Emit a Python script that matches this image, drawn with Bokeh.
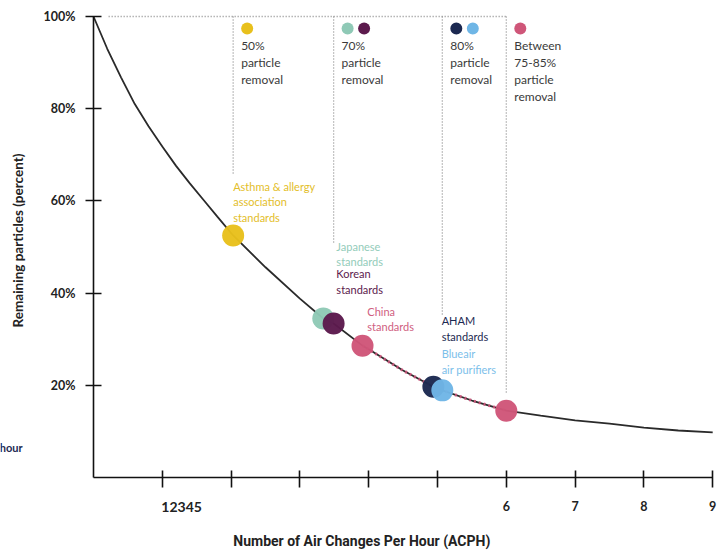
from bokeh.plotting import figure
from bokeh.models import Range1d, Label, FixedTicker, LinearAxis
from bokeh.embed import file_html
from bokeh.resources import INLINE

# Decay curve: remaining particles (%) against air changes per hour
curve_acph = [0, 0.2, 0.4, 0.6, 0.8, 1.0, 1.2, 1.4, 1.6, 1.8, 2.03, 2.5, 3.0,
              3.34, 3.49, 3.91, 4.0, 4.5, 4.94, 5.07, 5.5, 6.0, 6.5, 7.0,
              7.5, 8.0, 8.5, 9.0]
curve_remaining = [100, 93.0, 86.8, 81.0, 76.2, 71.8, 67.6, 63.8, 60.2, 56.6,
                   52.5, 45.6, 38.8, 34.5, 33.4, 28.6, 27.8, 23.2, 19.7, 18.9,
                   16.7, 14.5, 13.4, 12.4, 11.7, 10.8, 10.2, 9.8]

# Standards placed on the curve
std_names = ["Asthma & allergy\nassociation\nstandards", "Japanese\nstandards",
             "Korean\nstandards", "China\nstandards", "AHAM\nstandards",
             "Blueair\nair purifiers", "Between 75-85%"]
std_acph = [2.03, 3.34, 3.49, 3.91, 4.94, 5.07, 6.0]
std_remaining = [52.5, 34.5, 33.4, 28.6, 19.7, 18.9, 14.5]
std_colors = ["#E8C01C", "#8FC9B6", "#5C1A4D", "#CF5679", "#1C2951",
              "#6FB6E6", "#CF5679"]

# Removal groups shown along the top
group_text = ["50%\nparticle\nremoval", "70%\nparticle\nremoval",
              "80%\nparticle\nremoval", "Between\n75-85%\nparticle\nremoval"]
group_members = [[0], [1, 2], [4, 5], [6]]
group_anchor = [0, 2, 5, 6]          # standard whose ACPH sets the guide line
group_guide_bottom = [65.5, 51.0, 35.1, 18.2]

# Where each standard's caption sits (acph of left edge, top in %)
caption_x = [2.03, 3.53, 3.53, 3.98, 5.06, 5.06]
caption_top = [64.6, 51.6, 45.6, 37.5, 35.4, 28.2]
caption_colors = ["#E3BE2A", "#93CCBA", "#5C1A4D", "#D0607F", "#1C2951", "#7CC0EA"]

y_ticks = [20, 40, 60, 80, 100]
y_tick_labels = ["20%", "40%", "60%", "80%", "100%"]
x_ticks = [1, 2, 3, 4, 5, 6, 7, 8, 9]
x_tick_labels = ["12345", "", "", "", "", "6", "7", "8", "9"]

FONT = "Lato"
PX_PER_ACPH = 68.8
PX_PER_PCT = 4.61
W, H = 721, 551
ORIGIN_X, ORIGIN_Y = 93, 477     # pixel position of (0 ACPH, 0 %)

# The frame fills the page; both axes sit at the data origin
p = figure(width=W, height=H, output_backend="svg", toolbar_location=None,
           x_range=Range1d(-ORIGIN_X / PX_PER_ACPH, (W - ORIGIN_X) / PX_PER_ACPH),
           y_range=Range1d(-(H - ORIGIN_Y) / PX_PER_PCT, ORIGIN_Y / PX_PER_PCT),
           min_border=0, x_axis_location=None, y_axis_location=None)
p.outline_line_color = None
p.xgrid.visible = False
p.ygrid.visible = False
p.background_fill_color = "white"
p.border_fill_color = "white"

yaxis = LinearAxis(fixed_location=0, ticker=FixedTicker(ticks=y_ticks),
                   major_label_overrides=dict(zip(y_ticks, y_tick_labels)),
                   bounds=(0, 100))
xaxis = LinearAxis(fixed_location=0, ticker=FixedTicker(ticks=x_ticks),
                   major_label_overrides={t: ("" if i == 0 else lab) for i, (t, lab)
                                          in enumerate(zip(x_ticks, x_tick_labels))},
                   bounds=(0, 9))
for ax in (xaxis, yaxis):
    ax.axis_line_width = 1.6
    ax.axis_line_color = "#111111"
    ax.major_tick_line_width = 1.6
    ax.major_tick_line_color = "#111111"
    ax.minor_tick_line_color = None
    ax.major_label_text_font = FONT
    ax.major_label_text_font_style = "bold"
    ax.major_label_text_font_size = "12.5px"
    ax.major_label_text_color = "#222222"
yaxis.major_tick_in = 8
yaxis.major_tick_out = 8
yaxis.major_label_standoff = 10
xaxis.major_tick_in = 7
xaxis.major_tick_out = 10
xaxis.major_label_standoff = 13
p.add_layout(xaxis, "below")
p.add_layout(yaxis, "left")

# Y axis title
p.add_layout(Label(x=-ORIGIN_X / PX_PER_ACPH, y=(ORIGIN_Y - 240) / PX_PER_PCT,
                   x_offset=17, text="Remaining particles (percent)", angle=90,
                   angle_units="deg", text_align="center", text_baseline="middle",
                   text_font=FONT, text_font_style="bold", text_font_size="13.5px",
                   text_color="#222222"))

# First tick label runs to the right of its tick
p.add_layout(Label(x=x_ticks[0], y=-6.3, text=x_tick_labels[0], text_align="left",
                   text_baseline="middle", x_offset=-1, text_font=FONT,
                   text_font_style="bold", text_font_size="14px",
                   text_color="#222222"))

# X axis title
p.add_layout(Label(x=3.9, y=-13.7, text="Number of Air Changes Per Hour (ACPH)",
                   text_align="center", text_baseline="middle", text_font="Roboto",
                   text_font_style="bold", text_font_size="14px",
                   text_color="#222222"))

# Cropped legend fragment at the left edge
p.add_layout(Label(x=-1.03, y=6.5, text="hour", text_align="right",
                   text_baseline="middle", text_font=FONT, text_font_style="bold",
                   text_font_size="11px", text_color="#1C2951"))

# Guide lines: top dotted line and one vertical per removal group
guide_x = [std_acph[a] for a in group_anchor]
p.line([0.22, guide_x[-1]], [100, 100], line_color="#8C8C8C", line_width=1.3,
       line_dash="1 2")
p.segment(x0=guide_x, y0=[100] * len(guide_x), x1=guide_x, y1=group_guide_bottom,
          line_color="#8C8C8C", line_width=1.3, line_dash="1 2")

# Group captions and coloured keys along the top
for gx, text, members in zip(guide_x, group_text, group_members):
    key_x = [gx + (14 + 16.5 * i) / PX_PER_ACPH for i in range(len(members))]
    p.scatter(key_x, [97.4] * len(members), size=12,
              color=[std_colors[m] for m in members], line_color=None)
    p.add_layout(Label(x=gx, y=95.4, x_offset=8, text=text, text_align="left",
                       text_baseline="top", text_font=FONT, text_font_size="12px",
                       text_color="#3A3A3A", text_line_height=1.15))

# Decay curve
p.line(curve_acph, curve_remaining, line_color="#2A2A2A", line_width=1.8)

# Highlighted stretch from China standards to the 75-85% point
seg = [(x, y) for x, y in zip(curve_acph, curve_remaining)
       if std_acph[3] <= x <= std_acph[6]]
p.line([s[0] for s in seg], [s[1] for s in seg], line_color="#D0587E",
       line_width=3, line_alpha=0.9, line_dash="2 3")

# Standards markers
p.scatter(std_acph, std_remaining, size=22, color=std_colors, line_color=None,
          alpha=0.97)

# Captions for each standard
for name, cx, ct, col in zip(std_names[:6], caption_x, caption_top, caption_colors):
    p.add_layout(Label(x=cx, y=ct, text=name, text_align="left", text_baseline="top",
                       text_font=FONT, text_font_size="11px", text_color=col,
                       text_line_height=1.2))

open("out.html", "w").write(file_html(p, INLINE))
